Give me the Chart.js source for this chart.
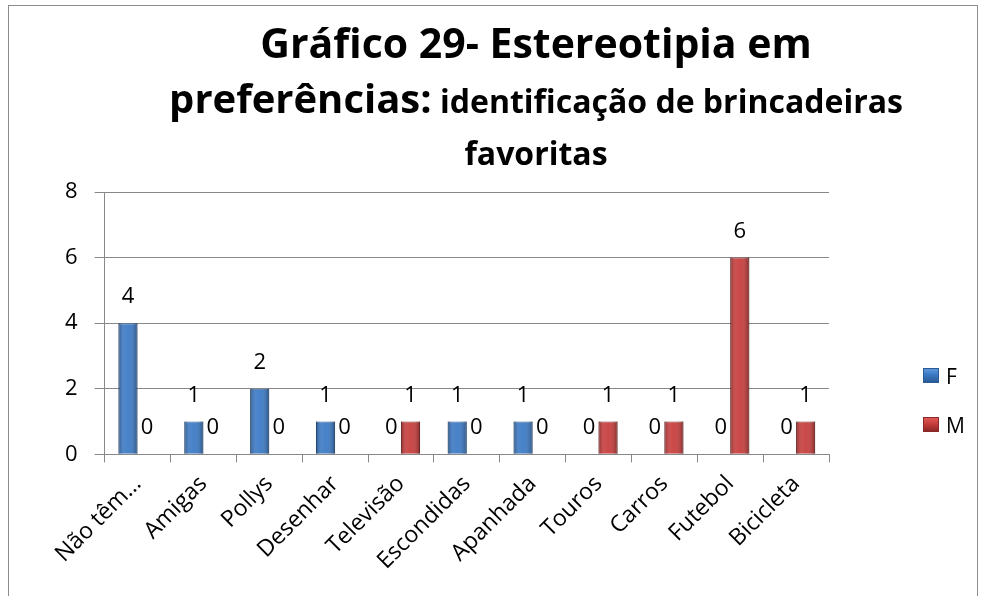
<!DOCTYPE html>
<html lang="pt">
<head>
<meta charset="utf-8">
<script src="https://cdn.jsdelivr.net/npm/chart.js@4.4.1/dist/chart.umd.min.js"></script>
<style>
  body { margin: 0; background: #fff; }
  #caixa { position: relative; width: 985px; height: 596px; overflow: hidden; font-family: 'Open Sans', sans-serif; }
  #moldura { position: absolute; left: 8px; top: 5px; width: 970px; height: 620px; border: 1px solid #8c8c8c; box-sizing: border-box; }
  canvas { position: absolute; left: 0; top: 0; }
  .linha { position: absolute; left: 0; width: 1072px; text-align: center; font-weight: bold; color: #000; white-space: nowrap; }
  .grande { font-size: 40px; line-height: 40px; }
  .l1 { font-size: 41px; }
  .pequeno { font-size: 32px; line-height: 32px; }
  #legenda { position: absolute; left: 923px; top: 364px; }
  #legenda .item { height: 49px; display: flex; align-items: flex-start; font-size: 21px; line-height: 24px; color: #000; }
  #legenda .cor { width: 16px; height: 15px; margin: 4px 7px 0 0; box-sizing: border-box; }
</style>
</head>
<body>
<div id="caixa">
  <div id="moldura"></div>
  <canvas id="grafico" width="985" height="596"></canvas>
  <div class="linha grande l1" style="top:22px">Gráfico 29- Estereotipia em</div>
  <div class="linha grande" style="top:78px">preferências:<span class="pequeno"> identificação de brincadeiras</span></div>
  <div class="linha pequeno" style="top:137px">favoritas</div>
  <div id="legenda"></div>
</div>
<script>
// Dados do gráfico
const categorias = ['Não têm…', 'Amigas', 'Pollys', 'Desenhar', 'Televisão', 'Escondidas', 'Apanhada', 'Touros', 'Carros', 'Futebol', 'Bicicleta'];
const valoresF = [4, 1, 2, 1, 0, 1, 1, 0, 0, 0, 0];
const valoresM = [0, 0, 0, 0, 1, 0, 0, 1, 1, 6, 1];
const ticksY = [0, 2, 4, 6, 8];

const fonte = "'Open Sans', sans-serif";

// cores das séries: base, borda, claro
const coresF = ['#3b79c4', '#2a5b96', '#5d98dc'];
const coresM = ['#c63d3c', '#8c2927', '#dc5a58'];

// brilho nas barras e rótulos de valor
const rotulosPlugin = {
    id: 'rotulos',
    afterDatasetsDraw(chart) {
        const ctx = chart.ctx;
        ctx.save();
        chart.data.datasets.forEach((ds, i) => {
            chart.getDatasetMeta(i).data.forEach(bar => {
                const w = bar.width;
                const x0 = bar.x - w / 2;
                const g = ctx.createLinearGradient(x0, 0, x0 + w, 0);
                g.addColorStop(0, 'rgba(0,0,0,0.30)');
                g.addColorStop(0.3, 'rgba(255,255,255,0.10)');
                g.addColorStop(0.55, 'rgba(255,255,255,0.06)');
                g.addColorStop(1, 'rgba(0,0,0,0.32)');
                ctx.fillStyle = g;
                ctx.fillRect(x0, bar.y, w, bar.base - bar.y);
            });
        });
        ctx.font = '22px ' + fonte;
        ctx.fillStyle = '#000';
        ctx.textAlign = 'center';
        ctx.textBaseline = 'alphabetic';
        chart.data.datasets.forEach((ds, i) => {
            chart.getDatasetMeta(i).data.forEach((bar, j) => {
                ctx.fillText(String(ds.data[j]), bar.x, bar.y - 20);
            });
        });
        ctx.restore();
    }
};

const ctx = document.getElementById('grafico').getContext('2d');
const grafico = new Chart(ctx, {
    type: 'bar',
    data: {
        labels: categorias,
        datasets: [
            { label: 'F', data: valoresF, backgroundColor: coresF[0], borderColor: coresF[1], borderWidth: 1 },
            { label: 'M', data: valoresM, backgroundColor: coresM[0], borderColor: coresM[1], borderWidth: 1 }
        ]
    },
    options: {
        responsive: false,
        animation: false,
        layout: { padding: { top: 192, left: 48, right: 156, bottom: 13 } },
        datasets: { bar: { categoryPercentage: 0.58, barPercentage: 1 } },
        plugins: {
            tooltip: { enabled: false },
            legend: { display: false },
            title: { display: false }
        },
        scales: {
            x: {
                grid: { display: true, drawOnChartArea: false, color: '#888', tickLength: 8 },
                border: { color: '#888' },
                ticks: { font: { family: fonte, size: 23 }, color: '#000', minRotation: 45, maxRotation: 45, autoSkip: false, padding: 8 }
            },
            y: {
                min: 0, max: 8,
                afterBuildTicks: axis => { axis.ticks = ticksY.map(v => ({ value: v })); },
                grid: { color: '#888', tickLength: 10 },
                border: { color: '#888' },
                ticks: { font: { family: fonte, size: 22 }, color: '#000', padding: 17 }
            }
        }
    },
    plugins: [rotulosPlugin]
});

// legenda em HTML
const legenda = document.getElementById('legenda');
[coresF, coresM].forEach((cores, i) => {
    const item = document.createElement('div');
    item.className = 'item';
    const cor = document.createElement('span');
    cor.className = 'cor';
    cor.style.background = `linear-gradient(to bottom, ${cores[2]}, ${cores[0]} 45%, ${cores[1]})`;
    cor.style.border = `1px solid ${cores[1]}`;
    item.appendChild(cor);
    item.appendChild(document.createTextNode(grafico.data.datasets[i].label));
    legenda.appendChild(item);
});
</script>
</body>
</html>
